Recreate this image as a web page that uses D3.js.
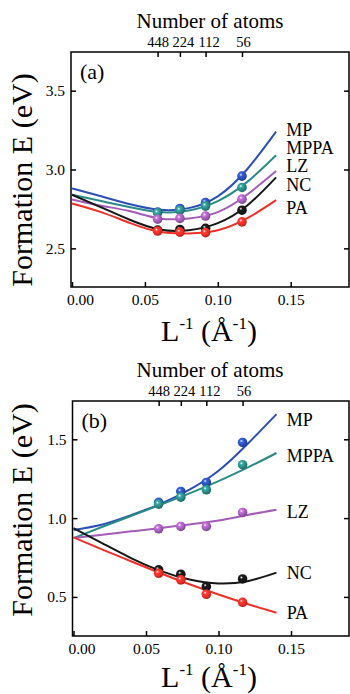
<!DOCTYPE html>
<html>
  <head>
    <title>Formation energy</title>
    <meta charset="utf-8">
    <style>
      body {
        margin: 0;
        background-color: #fff;
      }
      svg {
        display: block;
      }
      .axis line {
        stroke: #000;
        stroke-width: 1.5;
      }
    </style>
  </head>
  <body>
  <svg class="chart" width="350" height="694"></svg>
  <script src="https://d3js.org/d3.v7.min.js"></script>
  <script>
  // series, top to bottom
  var names = ["MP", "MPPA", "LZ", "NC", "PA"];
  var colors = ["#2b4fb4", "#2a8a86", "#a35cb6", "#161616", "#ec2f27"];

  // supercell sizes and matching inverse length
  var atoms = [448, 224, 112, 56];
  var invL = [0.0587, 0.0740, 0.0916, 0.1166];

  // inverse lengths where the fitted curves were read
  var fitL = [0, 0.02, 0.04, 0.06, 0.08, 0.10, 0.12, 0.14];

  var xTicks = [0, 0.05, 0.10, 0.15];
  var yTicksA = [2.5, 3.0, 3.5];
  var yTicksB = [0.5, 1.0, 1.5];

  // panel (a): one row per series
  var pointsA = [
    [2.730, 2.753, 2.790, 2.958],
    [2.725, 2.742, 2.768, 2.886],
    [2.685, 2.690, 2.705, 2.812],
    [2.616, 2.620, 2.627, 2.742],
    [2.610, 2.603, 2.600, 2.668]
  ];
  var fitsA = [
    [2.880, 2.830, 2.780, 2.745, 2.755, 2.830, 3.000, 3.240],
    [2.840, 2.800, 2.760, 2.730, 2.740, 2.800, 2.920, 3.090],
    [2.810, 2.770, 2.735, 2.690, 2.690, 2.730, 2.840, 2.990],
    [2.840, 2.760, 2.680, 2.620, 2.615, 2.660, 2.770, 2.950],
    [2.785, 2.730, 2.660, 2.605, 2.595, 2.615, 2.690, 2.806]
  ];
  var labelYA = [3.255, 3.140, 3.025, 2.905, 2.760];

  // panel (b)
  var pointsB = [
    [1.100, 1.169, 1.226, 1.480],
    [1.089, 1.133, 1.180, 1.339],
    [0.932, 0.947, 0.947, 1.036],
    [0.672, 0.644, 0.565, 0.614],
    [0.650, 0.608, 0.517, 0.466]
  ];
  var fitsB = [
    [0.925, 0.960, 1.020, 1.090, 1.180, 1.300, 1.470, 1.660],
    [0.873, 0.945, 1.015, 1.085, 1.157, 1.235, 1.320, 1.413],
    [0.873, 0.895, 0.916, 0.937, 0.960, 0.985, 1.020, 1.053],
    [0.936, 0.840, 0.745, 0.665, 0.610, 0.585, 0.600, 0.654],
    [0.878, 0.800, 0.725, 0.650, 0.580, 0.515, 0.455, 0.400]
  ];
  var labelYB = [1.625, 1.394, 1.038, 0.652, 0.398];

  var serif = "'Liberation Serif', 'DejaVu Serif', serif";
  var chart = d3.select("svg");

  // shaded ball for each colour
  var defs = chart.append("defs");
  names.forEach(function(n, i) {
    var c = d3.color(colors[i]);
    var grad = defs.append("radialGradient")
      .attr("id", "ball-" + n)
      .attr("cx", "38%").attr("cy", "35%").attr("r", "65%");
    grad.append("stop").attr("offset", "0%").attr("stop-color", "#fff");
    grad.append("stop").attr("offset", "25%").attr("stop-color", c.brighter(0.6).formatHex());
    grad.append("stop").attr("offset", "65%").attr("stop-color", c.formatHex());
    grad.append("stop").attr("offset", "100%").attr("stop-color", c.darker(0.8).formatHex());
  });

  function drawPanel(p) {
    var right = 349;
    var x = d3.scaleLinear().domain([-0.0007, 0.19]).range([p.left, right]);
    var y = d3.scaleLinear().domain(p.yDomain).range([p.bottom, p.top]);
    var g = chart.append("g");

    // bottom axis
    var gx = g.append("g")
      .attr("class", "axis")
      .attr("transform", "translate(0," + p.bottom + ")")
      .call(d3.axisBottom(x).tickValues(xTicks).tickFormat(d3.format(".2f"))
        .tickSizeInner(-5).tickSizeOuter(0).tickPadding(7));
    gx.selectAll("text").filter(function(d) { return d === 0; }).attr("dx", 8);

    // top axis, number of atoms
    var gt = g.append("g")
      .attr("class", "axis")
      .attr("transform", "translate(0," + p.top + ")")
      .call(d3.axisTop(x).tickValues(invL).tickFormat(function(d, i) { return atoms[i]; })
        .tickSizeInner(-5).tickSizeOuter(0).tickPadding(5));
    // labels sit a little right of their ticks, as in the original
    gt.selectAll("text").attr("dx", function(d, i) { return [0, 3, 3, 1][i]; });

    // left and right axes
    var gy = g.append("g")
      .attr("class", "axis")
      .attr("transform", "translate(" + p.left + ",0)")
      .call(d3.axisLeft(y).tickValues(p.yTicks).tickFormat(d3.format(".1f"))
        .tickSizeInner(-5).tickSizeOuter(0).tickPadding(6));
    var gr = g.append("g")
      .attr("class", "axis")
      .attr("transform", "translate(" + right + ",0)")
      .call(d3.axisRight(y).tickValues(p.yTicks).tickFormat("")
        .tickSizeInner(-5).tickSizeOuter(0));

    [gx, gt, gy, gr].forEach(function(a) {
      a.select(".domain").remove();
      a.attr("font-family", serif).attr("font-size", 15.5);
      a.selectAll("text").attr("fill", "#000");
    });
    gt.attr("font-size", 14.5);

    // frame
    g.append("rect")
      .attr("x", p.left).attr("y", p.top)
      .attr("width", right - p.left).attr("height", p.bottom - p.top)
      .attr("fill", "none").attr("stroke", "#000").attr("stroke-width", 1.5);

    // fitted curves
    var line = d3.line()
      .x(function(d) { return x(d[0]); })
      .y(function(d) { return y(d[1]); })
      .curve(d3.curveNatural);

    names.forEach(function(n, i) {
      g.append("path")
        .datum(fitL.map(function(l, j) { return [l, p.fits[i][j]]; }))
        .attr("d", line)
        .attr("fill", "none")
        .attr("stroke", colors[i])
        .attr("stroke-width", 2);
    });

    // calculated points
    names.forEach(function(n, i) {
      g.selectAll(".pt-" + n)
        .data(p.points[i])
        .enter().append("circle")
        .attr("class", "pt-" + n)
        .attr("cx", function(d, j) { return x(invL[j]); })
        .attr("cy", function(d) { return y(d); })
        .attr("r", 4.8)
        .attr("fill", "url(#ball-" + n + ")");
    });

    // series names
    g.selectAll(".lbl")
      .data(names)
      .enter().append("text")
      .attr("class", "lbl")
      .attr("x", x(0.147))
      .attr("y", function(d, i) { return y(p.labelY[i]); })
      .attr("dy", "0.35em")
      .attr("font-size", 18)
      .text(function(d) { return d; });

    // panel letter
    g.append("text")
      .attr("x", p.left + 9)
      .attr("y", p.top + 27)
      .attr("font-size", 22)
      .text(p.letter);

    // top title
    g.append("text")
      .attr("x", 210)
      .attr("y", p.top - 24)
      .attr("text-anchor", "middle")
      .attr("font-size", 21)
      .text("Number of atoms");

    // x title
    var xt = g.append("text")
      .attr("x", 209)
      .attr("y", p.bottom + p.xTitleGap)
      .attr("text-anchor", "middle")
      .attr("font-size", 30);
    xt.append("tspan").text("L");
    xt.append("tspan").attr("font-size", 17).attr("dy", -12).text("-1");
    xt.append("tspan").attr("dy", 12).text(" (Å");
    xt.append("tspan").attr("font-size", 17).attr("dy", -12).text("-1");
    xt.append("tspan").attr("dy", 12).text(")");

    // y title
    g.append("text")
      .attr("transform", "translate(32," + p.yTitle + ") rotate(-90)")
      .attr("text-anchor", "middle")
      .attr("font-size", 30)
      .text("Formation E (eV)");
  }

  drawPanel({
    letter: "(a)", left: 71, top: 52, bottom: 287, yTitle: 180, xTitleGap: 54,
    yDomain: [2.255, 3.745], yTicks: yTicksA,
    points: pointsA, fits: fitsA, labelY: labelYA
  });

  drawPanel({
    letter: "(b)", left: 72.5, top: 401, bottom: 636, yTitle: 510, xTitleGap: 51,
    yDomain: [0.252, 1.743], yTicks: yTicksB,
    points: pointsB, fits: fitsB, labelY: labelYB
  });

  // every text in a Times-like face
  chart.selectAll("text").style("font-family", serif);
  </script>
  </body>
</html>
